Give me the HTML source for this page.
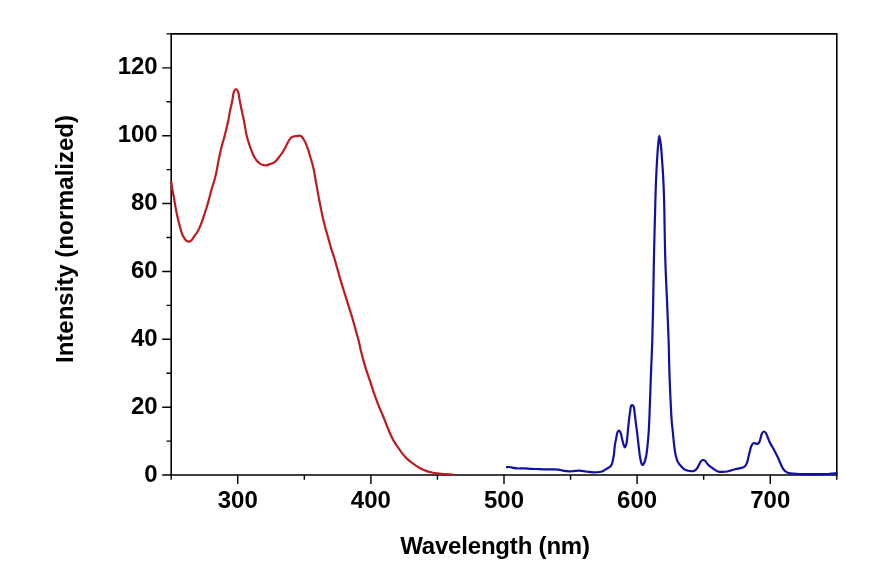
<!DOCTYPE html>
<html><head><meta charset="utf-8"><style>
html,body{margin:0;padding:0;background:#fff;width:887px;height:575px;overflow:hidden}
svg{display:block;will-change:transform}
text{font-family:"Liberation Sans",Arial,sans-serif;font-weight:bold;font-size:24px;fill:#000}
</style></head><body>
<svg width="887" height="575" viewBox="0 0 887 575">
<rect width="887" height="575" fill="#fff"/>
<defs><clipPath id="c"><rect x="169.70" y="33.90" width="668.10" height="442.15"/></clipPath></defs>
<path d="M171.20,33.90H836.80V475.05H171.20Z" fill="none" stroke="#000" stroke-width="1.6" stroke-linejoin="miter"/><path d="M162.20,475.05H171.20M166.50,441.12H171.20M162.20,407.18H171.20M166.50,373.25H171.20M162.20,339.31H171.20M166.50,305.38H171.20M162.20,271.44H171.20M166.50,237.51H171.20M162.20,203.57H171.20M166.50,169.63H171.20M162.20,135.70H171.20M166.50,101.77H171.20M162.20,67.83H171.20M166.50,33.90H171.20M171.20,475.05V479.75M237.76,475.05V484.05M304.32,475.05V479.75M370.88,475.05V484.05M437.44,475.05V479.75M504.00,475.05V484.05M570.56,475.05V479.75M637.12,475.05V484.05M703.68,475.05V479.75M770.24,475.05V484.05M836.80,475.05V479.75" fill="none" stroke="#000" stroke-width="1.4"/><text x="157.70" y="481.55" text-anchor="end">0</text><text x="157.70" y="413.68" text-anchor="end">20</text><text x="157.70" y="345.81" text-anchor="end">40</text><text x="157.70" y="277.94" text-anchor="end">60</text><text x="157.70" y="210.07" text-anchor="end">80</text><text x="157.70" y="142.20" text-anchor="end">100</text><text x="157.70" y="74.33" text-anchor="end">120</text><text x="237.76" y="508.20" text-anchor="middle">300</text><text x="370.88" y="508.20" text-anchor="middle">400</text><text x="504.00" y="508.20" text-anchor="middle">500</text><text x="637.12" y="508.20" text-anchor="middle">600</text><text x="770.24" y="508.20" text-anchor="middle">700</text><text x="400.2" y="553.7" textLength="189.8" lengthAdjust="spacing">Wavelength (nm)</text><text transform="translate(72.8,363) rotate(-90)" x="0" y="0">Intensity (normalized)</text>
<g clip-path="url(#c)"><path d="M171.30,182.00 C171.48,183.32 171.98,187.44 172.40,189.90 C172.77,192.07 173.23,193.74 173.65,196.00 C174.17,198.79 174.68,202.47 175.20,205.40 C175.66,207.99 176.08,210.18 176.60,212.70 C177.17,215.43 177.84,218.48 178.50,221.20 C179.11,223.73 179.67,226.08 180.40,228.50 C181.14,230.95 181.84,233.67 182.90,235.80 C183.83,237.66 185.02,239.75 186.20,240.70 C187.00,241.34 187.88,241.71 188.70,241.70 C189.51,241.69 190.33,241.31 191.10,240.70 C192.20,239.83 193.18,237.83 194.20,236.40 C195.21,234.99 196.26,233.77 197.20,232.20 C198.28,230.39 199.25,228.33 200.20,226.10 C201.30,223.53 202.30,220.49 203.30,217.60 C204.33,214.63 205.36,211.52 206.30,208.50 C207.22,205.52 208.11,202.49 208.90,199.60 C209.64,196.90 210.19,194.24 210.90,191.70 C211.56,189.31 212.33,187.03 213.00,184.80 C213.63,182.71 214.23,180.81 214.80,178.70 C215.40,176.45 215.99,174.10 216.50,171.70 C217.03,169.18 217.37,166.68 217.90,163.90 C218.51,160.68 219.27,156.81 220.00,153.50 C220.67,150.46 221.34,147.69 222.10,144.80 C222.87,141.89 223.83,139.01 224.60,136.10 C225.36,133.21 226.02,130.30 226.70,127.40 C227.37,124.50 228.07,121.61 228.65,118.70 C229.23,115.81 229.72,112.26 230.20,110.00 C230.51,108.53 230.78,107.80 231.10,106.40 C231.54,104.46 232.04,101.78 232.50,99.40 C232.98,96.92 233.09,93.65 233.90,91.80 C234.44,90.56 235.30,89.00 236.00,89.00 C236.70,89.00 237.56,90.56 238.10,91.80 C238.91,93.65 239.02,96.92 239.50,99.40 C239.96,101.78 240.43,104.08 240.90,106.40 C241.37,108.71 241.80,110.94 242.30,113.30 C242.83,115.80 243.41,118.05 244.00,121.00 C244.79,124.97 245.54,130.87 246.50,135.00 C247.28,138.35 248.18,141.19 249.10,144.00 C249.92,146.52 250.84,148.93 251.70,151.10 C252.44,152.98 253.05,154.73 253.90,156.30 C254.67,157.73 255.53,159.02 256.50,160.20 C257.44,161.34 258.47,162.49 259.60,163.30 C260.65,164.06 261.86,164.65 263.00,165.00 C264.03,165.31 265.12,165.48 266.10,165.40 C267.01,165.32 267.81,164.90 268.70,164.60 C269.67,164.27 270.74,163.88 271.70,163.50 C272.60,163.14 273.47,162.95 274.30,162.40 C275.25,161.77 276.15,160.77 277.00,159.80 C277.92,158.75 278.73,157.47 279.60,156.30 C280.47,155.13 281.36,154.05 282.20,152.80 C283.10,151.46 284.00,149.96 284.80,148.50 C285.60,147.06 286.26,145.52 287.00,144.10 C287.70,142.76 288.29,141.37 289.10,140.20 C289.87,139.09 290.74,137.85 291.70,137.20 C292.50,136.66 293.41,136.48 294.30,136.30 C295.18,136.12 296.11,136.22 297.00,136.10 C297.88,135.98 298.80,135.48 299.60,135.60 C300.36,135.71 301.05,136.14 301.70,136.70 C302.52,137.42 303.21,138.65 303.90,139.80 C304.68,141.09 305.41,142.52 306.10,144.10 C306.90,145.93 307.60,148.09 308.30,150.20 C309.04,152.44 309.73,154.95 310.40,157.20 C311.03,159.30 311.63,161.20 312.20,163.30 C312.80,165.52 313.35,167.56 313.90,170.20 C314.63,173.70 315.27,178.38 316.00,182.50 C316.74,186.68 317.52,190.91 318.30,195.10 C319.08,199.28 319.89,203.57 320.70,207.60 C321.46,211.39 322.18,215.09 323.00,218.60 C323.76,221.87 324.52,224.76 325.40,228.00 C326.35,231.51 327.47,235.26 328.50,238.90 C329.54,242.56 330.59,246.64 331.60,249.90 C332.42,252.54 333.19,254.39 334.00,257.00 C334.98,260.15 335.93,263.74 337.00,267.50 C338.24,271.85 339.65,277.04 341.00,281.60 C342.28,285.93 343.60,290.01 344.90,294.20 C346.20,298.38 347.50,302.53 348.80,306.70 C350.10,310.87 351.43,314.90 352.70,319.20 C354.04,323.75 355.53,329.47 356.60,333.30 C357.34,335.95 357.84,337.41 358.50,340.00 C359.39,343.51 360.23,348.22 361.30,352.50 C362.44,357.07 363.77,361.92 365.20,366.60 C366.64,371.32 368.33,376.00 369.90,380.70 C371.47,385.40 372.99,390.25 374.60,394.80 C376.13,399.13 377.68,403.37 379.30,407.40 C380.82,411.18 382.62,414.94 384.00,418.30 C385.17,421.16 386.16,423.92 387.10,426.30 C387.86,428.22 388.44,429.74 389.20,431.50 C390.00,433.37 390.86,435.32 391.80,437.20 C392.76,439.12 393.77,441.07 394.90,442.90 C396.03,444.73 397.38,446.44 398.60,448.20 C399.81,449.94 400.90,451.75 402.20,453.40 C403.50,455.05 404.91,456.63 406.40,458.10 C407.88,459.56 409.46,460.91 411.10,462.20 C412.76,463.51 414.54,464.75 416.30,465.90 C418.01,467.02 419.73,468.12 421.50,469.00 C423.20,469.84 424.95,470.51 426.70,471.10 C428.42,471.68 430.15,472.12 431.90,472.50 C433.65,472.88 435.36,473.15 437.20,473.40 C439.18,473.66 441.32,473.83 443.40,474.00 C445.49,474.17 447.97,474.26 449.70,474.40 C450.92,474.50 452.28,474.65 452.80,474.70" fill="none" stroke="#c01a1f" stroke-width="2.2" stroke-linejoin="round" stroke-linecap="round"/><path d="M507.00,467.20 C507.40,467.17 508.52,466.94 509.40,467.00 C510.48,467.07 511.73,467.56 513.00,467.80 C514.41,468.07 515.86,468.40 517.50,468.50 C519.44,468.62 521.70,468.26 523.90,468.30 C526.23,468.34 528.70,468.67 531.10,468.80 C533.50,468.93 535.90,469.00 538.30,469.10 C540.70,469.20 543.10,469.35 545.50,469.40 C547.90,469.45 550.47,469.36 552.70,469.40 C554.63,469.44 556.26,469.37 558.10,469.60 C560.06,469.85 562.21,470.60 564.10,470.90 C565.75,471.17 567.23,471.37 568.80,471.40 C570.37,471.43 571.88,471.21 573.50,471.10 C575.24,470.98 577.15,470.69 578.90,470.70 C580.55,470.71 582.11,470.90 583.70,471.10 C585.28,471.30 586.77,471.70 588.40,471.90 C590.13,472.11 592.00,472.28 593.80,472.30 C595.60,472.32 597.62,472.23 599.20,472.00 C600.47,471.82 601.50,471.64 602.60,471.20 C603.77,470.73 604.87,469.87 606.00,469.20 C607.13,468.53 608.46,467.95 609.40,467.20 C610.21,466.56 610.90,465.90 611.40,465.10 C611.90,464.30 612.12,463.36 612.40,462.40 C612.70,461.37 612.87,460.21 613.10,459.10 C613.34,457.98 613.58,457.14 613.80,455.70 C614.17,453.27 614.36,448.87 614.80,445.80 C615.19,443.09 615.71,440.60 616.20,438.20 C616.65,436.02 616.87,433.27 617.60,432.00 C618.01,431.28 618.63,430.56 619.10,430.60 C619.60,430.65 620.10,431.64 620.50,432.50 C621.13,433.85 621.42,436.30 621.90,438.20 C622.38,440.10 622.85,442.26 623.40,443.90 C623.84,445.20 624.30,447.27 624.80,447.30 C625.24,447.33 625.83,445.95 626.20,444.90 C626.77,443.27 626.90,440.63 627.20,438.20 C627.55,435.31 627.78,431.87 628.10,428.70 C628.42,425.51 628.75,422.11 629.10,419.10 C629.42,416.42 629.72,413.86 630.10,411.50 C630.43,409.43 630.53,406.66 631.20,405.70 C631.53,405.24 632.02,404.93 632.40,405.00 C632.87,405.09 633.35,405.87 633.70,406.70 C634.36,408.28 634.44,411.62 634.80,414.30 C635.21,417.31 635.60,420.71 636.00,423.90 C636.40,427.08 636.80,430.08 637.20,433.40 C637.64,437.05 638.03,440.98 638.50,444.90 C638.99,449.01 639.54,454.26 640.10,457.50 C640.46,459.55 640.76,461.14 641.20,462.50 C641.52,463.50 641.83,464.86 642.30,465.00 C642.64,465.10 643.15,464.59 643.50,464.20 C643.95,463.68 644.24,462.96 644.60,462.00 C645.20,460.38 645.82,457.77 646.30,455.20 C646.91,451.93 647.30,447.85 647.70,443.90 C648.14,439.58 648.50,434.97 648.80,430.30 C649.11,425.35 649.24,421.29 649.50,415.00 C649.91,404.88 650.42,388.23 650.90,375.40 C651.35,363.27 651.92,352.13 652.30,340.00 C652.70,327.17 652.93,313.67 653.20,300.40 C653.47,287.00 653.59,274.79 653.90,260.00 C654.28,241.97 655.02,213.73 655.40,200.00 C655.60,192.82 655.70,188.75 655.90,183.60 C656.08,179.01 656.28,174.93 656.50,170.60 C656.72,166.27 656.92,161.94 657.20,157.60 C657.48,153.24 657.80,148.40 658.20,144.50 C658.52,141.33 658.87,135.91 659.30,135.90 C659.73,135.89 660.39,141.32 660.80,144.50 C661.30,148.40 661.57,153.24 661.90,157.60 C662.23,161.94 662.53,166.27 662.80,170.60 C663.07,174.93 663.29,179.01 663.50,183.60 C663.73,188.75 663.90,192.82 664.10,200.00 C664.49,213.73 664.74,241.97 665.30,260.00 C665.76,274.80 666.45,287.00 667.00,300.40 C667.55,313.67 668.18,327.17 668.60,340.00 C669.00,352.13 669.07,363.27 669.50,375.40 C669.95,388.23 670.89,407.47 671.30,415.00 C671.46,418.00 671.50,418.90 671.70,421.30 C671.97,424.52 672.52,428.83 672.90,432.60 C673.28,436.37 673.53,440.14 674.00,443.90 C674.47,447.67 674.93,451.94 675.70,455.20 C676.31,457.78 676.88,460.04 677.90,462.00 C678.81,463.74 680.10,465.19 681.30,466.50 C682.38,467.69 683.53,468.91 684.70,469.60 C685.67,470.17 686.72,470.33 687.70,470.60 C688.62,470.85 689.49,471.12 690.40,471.20 C691.29,471.28 692.24,471.29 693.10,471.10 C693.94,470.92 694.79,470.62 695.50,470.10 C696.28,469.53 696.90,468.60 697.50,467.70 C698.15,466.72 698.59,465.50 699.20,464.40 C699.82,463.27 700.39,461.74 701.20,461.00 C701.82,460.43 702.61,459.99 703.30,460.00 C703.98,460.01 704.69,460.49 705.30,461.00 C706.05,461.63 706.55,462.83 707.30,463.70 C708.10,464.63 709.01,465.57 710.00,466.40 C711.03,467.27 712.26,468.03 713.40,468.80 C714.53,469.56 715.70,470.49 716.80,471.00 C717.72,471.42 718.54,471.65 719.50,471.80 C720.56,471.97 721.71,471.94 722.90,471.90 C724.20,471.86 725.65,471.75 727.00,471.50 C728.35,471.25 729.66,470.78 731.00,470.40 C732.36,470.01 733.74,469.55 735.10,469.20 C736.44,468.85 737.78,468.57 739.10,468.30 C740.38,468.04 741.82,468.06 742.90,467.60 C743.84,467.20 744.62,466.69 745.30,465.90 C746.11,464.95 746.68,463.53 747.20,462.10 C747.82,460.40 748.13,458.22 748.60,456.30 C749.06,454.39 749.50,452.41 750.00,450.60 C750.47,448.92 750.84,447.11 751.50,445.80 C752.03,444.75 752.66,443.53 753.40,443.20 C753.97,442.95 754.67,443.28 755.30,443.40 C755.94,443.52 756.59,444.02 757.20,443.90 C757.87,443.77 758.58,443.20 759.10,442.50 C759.82,441.52 760.13,439.68 760.60,438.20 C761.10,436.65 761.30,434.58 762.00,433.40 C762.51,432.54 763.24,431.55 763.90,431.50 C764.51,431.45 765.24,432.21 765.80,432.90 C766.59,433.88 767.08,435.72 767.70,437.20 C768.35,438.75 768.84,440.39 769.60,442.00 C770.42,443.73 771.54,445.46 772.50,447.20 C773.47,448.96 774.49,450.77 775.40,452.50 C776.25,454.13 777.03,455.66 777.80,457.30 C778.60,458.99 779.37,460.85 780.10,462.50 C780.76,464.00 781.31,465.48 782.00,466.80 C782.62,467.99 783.19,469.20 784.00,470.10 C784.75,470.93 785.72,471.59 786.60,472.10 C787.39,472.56 788.05,472.86 789.00,473.10 C790.25,473.42 791.84,473.46 793.50,473.60 C795.53,473.77 798.03,473.90 800.30,474.00 C802.57,474.10 804.84,474.17 807.10,474.20 C809.34,474.23 811.56,474.20 813.80,474.20 C816.06,474.20 818.33,474.23 820.60,474.20 C822.87,474.17 825.43,474.13 827.40,474.00 C828.91,473.90 830.20,473.70 831.40,473.60 C832.39,473.51 833.20,473.47 834.10,473.40 C835.00,473.33 836.35,473.23 836.80,473.20" fill="none" stroke="#1010a8" stroke-width="2.2" stroke-linejoin="round" stroke-linecap="round"/></g>
</svg>
</body></html>
